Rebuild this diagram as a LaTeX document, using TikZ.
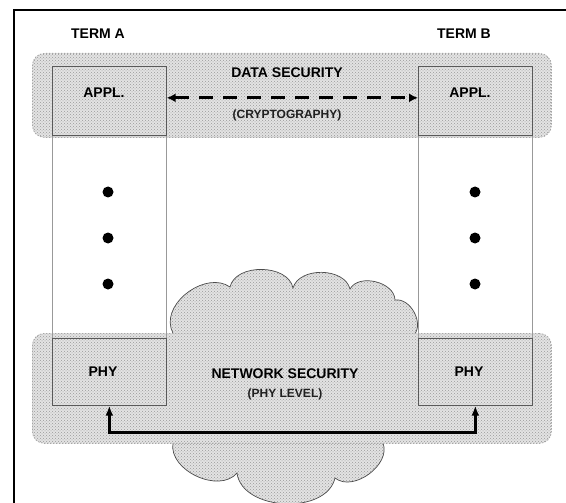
\documentclass[tikz,border=0pt]{standalone}
\usepackage{fontspec}
\setmainfont{Liberation Sans}
\usetikzlibrary{arrows.meta,patterns}
\begin{document}
\begin{tikzpicture}[x=1pt,y=-1pt,
  texture/.style={preaction={fill=gray!22}, pattern=crosshatch dots, pattern color=gray!80},
  band/.style={texture, draw=gray!70, line width=0.8pt, dash pattern=on 1.5pt off 1.5pt, rounded corners=12pt},
  cloudsty/.style={texture, draw=gray!60!black, line width=0.7pt},
  column/.style={draw=gray!80, line width=0.8pt, inner sep=0pt, minimum width=114pt, anchor=north west},
  layerbox/.style={draw=gray!70!black, line width=0.7pt, inner sep=0pt, minimum width=114pt, anchor=north west},
  lbl/.style={font=\fontsize{14}{16}\selectfont\bfseries, inner sep=0pt},
  sublbl/.style={font=\fontsize{12}{14}\selectfont\bfseries, text=gray!25!black, inner sep=0pt},
  dotmark/.style={circle, fill=black, inner sep=0pt, minimum size=11pt},
  dasharrow/.style={line width=3pt, dash pattern=on 14pt off 10pt, {Latex[length=9pt,width=9pt]}-{Latex[length=9pt,width=9pt]}},
  solidarrow/.style={line width=3pt, {Latex[length=10pt,width=8pt]}-{Latex[length=10pt,width=8pt]}}
]
\useasboundingbox (0,0) rectangle (566,503);
\fill[white] (0,0) rectangle (566,503);
% outer frame
\draw[line width=2.5pt] (570,10) -- (14,10) -- (14,510);
% cloud
\draw[cloudsty] (174,336) -- (171,328) to[bend left=70] (230,287) to[bend left=78] (293,288)
  to[bend left=75] (350,289) to[bend left=75] (395,300) to[bend left=70] (414,335)
  -- (383,443) to[bend left=75] (335,478) to[bend left=80] (237,473) to[bend left=75] (173,443) -- cycle;
% bands
\node[band, inner sep=0pt, minimum width=519pt, minimum height=84pt, anchor=north west] (databand) at (32,53) {};
\node[band, inner sep=0pt, minimum width=519pt, minimum height=110pt, anchor=north west] (netband) at (32,333) {};
% terminal columns
\node[column, minimum height=339pt] (colA) at (52,66) {};
\node[column, minimum height=339pt] (colB) at (418,66) {};
\node[layerbox, minimum height=69pt] (applA) at (52,66) {};
\node[layerbox, minimum height=69pt] (applB) at (418,66) {};
\node[layerbox, minimum height=67pt] (phyA) at (52,338) {};
\node[layerbox, minimum height=67pt] (phyB) at (418,338) {};
% labels
\node[lbl] (termA) at (98,34) {TERM A};
\node[lbl] (termB) at (464,34) {TERM B};
\node[lbl] (applAt) at (104,93) {APPL.};
\node[lbl] (applBt) at (470,93) {APPL.};
\node[lbl] (phyAt) at (103,372) {PHY};
\node[lbl] (phyBt) at (469,372) {PHY};
\node[lbl] (datasec) at (287,73) {DATA SECURITY};
\node[sublbl] (crypto) at (287,115) {(CRYPTOGRAPHY)};
\node[lbl] (netsec) at (285,374) {NETWORK SECURITY};
\node[sublbl] (phylev) at (285,394) {(PHY LEVEL)};
% dots
\node[dotmark] (a1) at (108,192) {};
\node[dotmark] (a2) at (108,238) {};
\node[dotmark] (a3) at (108,284) {};
\node[dotmark] (b1) at (475,192) {};
\node[dotmark] (b2) at (475,238) {};
\node[dotmark] (b3) at (475,284) {};
% arrows
\draw[dasharrow] ([yshift=3pt]applA.east) -- ([yshift=3pt]applB.west);
\draw[solidarrow] (phyA.south) -- ++(0,27) -| (phyB.south);
\end{tikzpicture}
\end{document}
